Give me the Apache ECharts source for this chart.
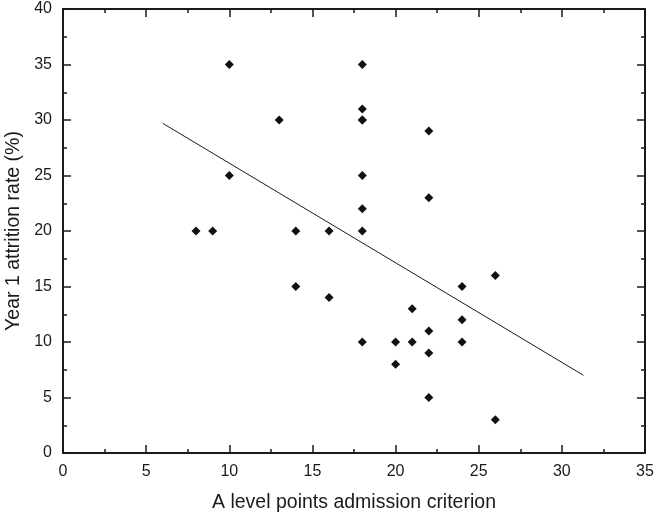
<!DOCTYPE html>
<html>
<head>
<meta charset="utf-8">
<script src="https://cdn.jsdelivr.net/npm/echarts@6/dist/echarts.min.js"></script>
<style>
  html, body { margin: 0; padding: 0; background: #fff; }
  #chart { width: 656px; height: 517px; }
</style>
</head>
<body>
<div id="chart"></div>
<script>
// A level points required for admission vs. first-year attrition, per course
const admissionPoints = [8, 9, 10, 10, 13, 14, 14, 16, 16, 18, 18, 18, 18, 18, 18, 18, 18, 20, 20, 21, 21, 22, 22, 22, 22, 22, 24, 24, 24, 26, 26];
const attritionRate   = [20, 20, 35, 25, 30, 20, 15, 20, 14, 35, 31, 30, 30, 25, 22, 20, 10, 10, 8, 13, 10, 29, 23, 11, 9, 5, 15, 12, 10, 16, 3];

// Least-squares trend line end points (x, y)
const trendX = [6, 31.3];
const trendY = [29.7, 7.0];

const xTicks = [0, 5, 10, 15, 20, 25, 30, 35];
const yTicks = [0, 5, 10, 15, 20, 25, 30, 35, 40];

const FONT = '"Liberation Sans", Arial, sans-serif';
const INK = '#1a1a1a';

const points = admissionPoints.map((x, i) => [x, attritionRate[i]]);
const trend = trendX.map((x, i) => [x, trendY[i]]);

function axisBase(showLabels) {
  return {
    type: 'value',
    axisLine: { show: true, onZero: false, lineStyle: { color: INK, width: 2 } },
    axisTick: { show: true, inside: true, length: 8, lineStyle: { color: INK, width: 1.5 } },
    minorTick: { show: true, splitNumber: 2, length: 4, lineStyle: { color: INK, width: 1.5 } },
    splitLine: { show: false },
    axisLabel: { show: showLabels, color: INK, fontFamily: FONT, fontSize: 16 }
  };
}

const chart = echarts.init(document.getElementById('chart'), null, { renderer: 'canvas' });
chart.setOption({
  animation: false,
  backgroundColor: '#fff',
  grid: { left: 63, right: 11, top: 9, bottom: 64, containLabel: false, outerBoundsMode: 'none' },
  xAxis: [
    Object.assign(axisBase(true), {
      min: xTicks[0], max: xTicks[xTicks.length - 1], interval: 5, position: 'bottom',
      name: 'A level points admission criterion', nameLocation: 'middle', nameGap: 40,
      nameTextStyle: { color: INK, fontFamily: FONT, fontSize: 19.5 },
      axisLabel: { show: true, color: INK, fontFamily: FONT, fontSize: 16, margin: 11 }
    }),
    Object.assign(axisBase(false), {
      min: xTicks[0], max: xTicks[xTicks.length - 1], interval: 5, position: 'top'
    })
  ],
  yAxis: [
    Object.assign(axisBase(true), {
      min: yTicks[0], max: yTicks[yTicks.length - 1], interval: 5, position: 'left',
      name: 'Year 1 attrition rate (%)', nameLocation: 'middle', nameGap: 38,
      nameTextStyle: { color: INK, fontFamily: FONT, fontSize: 19.5 },
      axisLabel: { show: true, color: INK, fontFamily: FONT, fontSize: 16, margin: 11 }
    }),
    Object.assign(axisBase(false), {
      min: yTicks[0], max: yTicks[yTicks.length - 1], interval: 5, position: 'right'
    })
  ],
  series: [
    {
      type: 'line',
      data: trend,
      symbol: 'none',
      lineStyle: { color: INK, width: 1 },
      z: 2
    },
    {
      type: 'scatter',
      data: points,
      symbol: 'diamond',
      symbolSize: [9, 9],
      itemStyle: { color: '#111', opacity: 1 },
      z: 3
    }
  ]
});
</script>
</body>
</html>
